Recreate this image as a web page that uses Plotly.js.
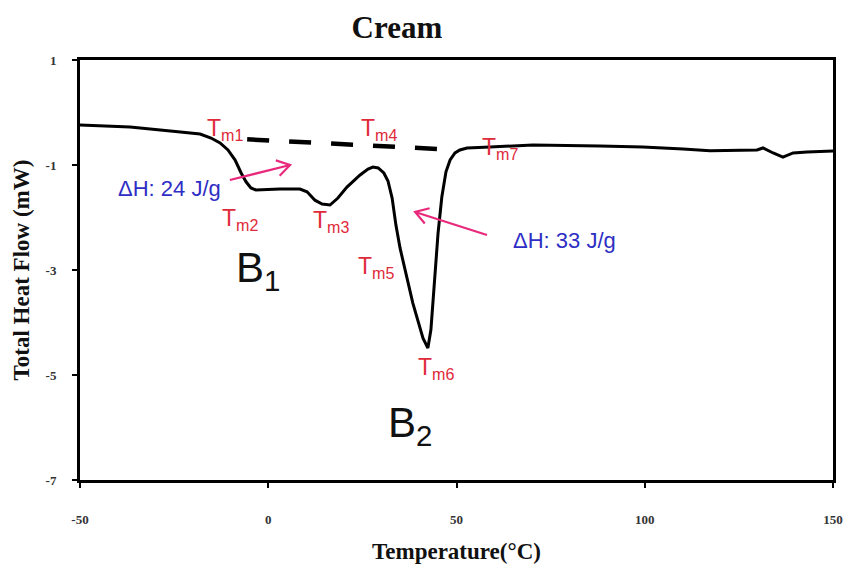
<!DOCTYPE html>
<html>
<head>
<meta charset="utf-8">
<script src="https://cdn.plot.ly/plotly-3.0.1.min.js"></script>
<style>html,body{margin:0;padding:0;background:#fff;}#chart{width:850px;height:574px;}</style>
</head>
<body>
<div id="chart"></div>
<script>
// Temperature (°C) and total heat flow (mW)
var temperature = [-50, -36.7, -24, -18.1, -15.2, -12.8, -10.7, -8.8, -7.2, -5.9, -4.6, -3.3, 3.1, 8.4, 10.3, 12.4, 14.3, 16.4, 18.5, 20.9, 24.4, 26.5, 27.8, 29.2, 30.7, 31.8, 32.9, 33.9, 35.0, 38.4, 41.1, 42.4, 43.2, 44.0, 45.1, 46.1, 47.2, 48.3, 49.6, 50.9, 52.8, 58.9, 70.3, 88.1, 99.5, 110.2, 117.3, 129.8, 131.4, 134.1, 136.7, 139.4, 143.1, 150];
var heatFlow = [-0.238, -0.276, -0.366, -0.41, -0.486, -0.58, -0.714, -0.905, -1.152, -1.32, -1.438, -1.476, -1.457, -1.457, -1.51, -1.67, -1.743, -1.762, -1.63, -1.42, -1.19, -1.076, -1.04, -1.057, -1.152, -1.305, -1.63, -2.14, -2.58, -3.63, -4.30, -4.486, -4.14, -3.38, -2.30, -1.61, -1.13, -0.905, -0.77, -0.714, -0.676, -0.657, -0.62, -0.638, -0.657, -0.695, -0.728, -0.714, -0.676, -0.771, -0.848, -0.771, -0.752, -0.733];

// Dashed baseline between Tm1 and Tm7
var baselineT = [-5.6, 50.1];
var baselineHF = [-0.51, -0.714];

// Tick labels
var xTicks = [-50, 0, 50, 100, 150];
var yTicks = [1, -1, -3, -5, -7];

// Point labels
var tmLabels = ['T<sub>m1</sub>', 'T<sub>m2</sub>', 'T<sub>m3</sub>', 'T<sub>m4</sub>', 'T<sub>m5</sub>', 'T<sub>m6</sub>', 'T<sub>m7</sub>'];
var tmX = [-11.5, -7.5, 16.7, 29.4, 28.6, 44.6, 61.6];
var tmY = [-0.333, -2.03, -2.07, -0.333, -2.96, -4.87, -0.695];

var enthalpyLabels = ['ΔH: 24 J/g', 'ΔH: 33 J/g'];
var enthalpyX = [-26.1, 78.8];
var enthalpyY = [-1.457, -2.43];

var peakLabels = ['B<sub>1</sub>', 'B<sub>2</sub>'];
var peakX = [-2.7, 37.6];
var peakY = [-3.0, -5.97];

// Arrows: tail -> head
var arrowTailX = [-10.2, 58.1];
var arrowTailY = [-1.286, -2.333];
var arrowHeadX = [5.8, 39.0];
var arrowHeadY = [-1.0, -1.895];

var RED = '#df2a3a', BLUE = '#2e2ec4', PINK = '#e8297c';

var annotations = [];
for (var i = 0; i < tmLabels.length; i++) {
  annotations.push({x: tmX[i], y: tmY[i], xref: 'x', yref: 'y', text: tmLabels[i], showarrow: false,
    font: {family: 'Liberation Sans, Arial, sans-serif', size: 23, color: RED}});
}
for (var i = 0; i < enthalpyLabels.length; i++) {
  annotations.push({x: enthalpyX[i], y: enthalpyY[i], xref: 'x', yref: 'y', text: enthalpyLabels[i], showarrow: false,
    font: {family: 'Liberation Sans, Arial, sans-serif', size: 22, color: BLUE}});
}
for (var i = 0; i < peakLabels.length; i++) {
  annotations.push({x: peakX[i], y: peakY[i], xref: 'x', yref: 'y', text: peakLabels[i], showarrow: false,
    font: {family: 'Liberation Sans, Arial, sans-serif', size: 42, color: '#111'}});
}

// Plot geometry (px per data unit) for open arrowheads
var mL = 80, mR = 17, mT = 60, mB = 94, W = 850, H = 574;
var xRange = [-50, 150], yRange = [-7, 1];
var pxPerX = (W - mL - mR) / (xRange[1] - xRange[0]);
var pxPerY = (H - mT - mB) / (yRange[1] - yRange[0]);

var shapes = [];
for (var i = 0; i < arrowTailX.length; i++) {
  var dxp = (arrowHeadX[i] - arrowTailX[i]) * pxPerX;
  var dyp = (arrowHeadY[i] - arrowTailY[i]) * pxPerY;
  var len = Math.sqrt(dxp * dxp + dyp * dyp);
  var ux = dxp / len, uy = dyp / len;
  var armLen = 15, ang = 32 * Math.PI / 180;
  var arms = [1, -1].map(function (sign) {
    var c = Math.cos(sign * ang), s = Math.sin(sign * ang);
    var bx = -(ux * c - uy * s), by = -(ux * s + uy * c);
    return [arrowHeadX[i] + bx * armLen / pxPerX, arrowHeadY[i] + by * armLen / pxPerY];
  });
  shapes.push({type: 'path', xref: 'x', yref: 'y',
    path: 'M' + arrowTailX[i] + ',' + arrowTailY[i] + ' L' + arrowHeadX[i] + ',' + arrowHeadY[i] +
          ' M' + arms[0][0] + ',' + arms[0][1] + ' L' + arrowHeadX[i] + ',' + arrowHeadY[i] + ' L' + arms[1][0] + ',' + arms[1][1],
    line: {color: PINK, width: 2.2}});
}

var traces = [
  {x: baselineT, y: baselineHF, mode: 'lines', line: {color: '#000', width: 4.5, dash: '22px,20px'}, hoverinfo: 'skip', showlegend: false},
  {x: temperature, y: heatFlow, mode: 'lines', line: {color: '#000', width: 3}, showlegend: false}
];

var axisFont = {family: 'Liberation Serif, Times New Roman, serif', size: 13, color: '#333', weight: 'bold'};
var titleFont = {family: 'Liberation Serif, Times New Roman, serif', size: 23, color: '#111', weight: 'bold'};

var layout = {
  width: W, height: H,
  margin: {l: mL, r: mR, t: mT, b: mB},
  paper_bgcolor: '#fff', plot_bgcolor: '#fff',
  title: {text: 'Cream', x: 0.467, xref: 'container', xanchor: 'center', y: 0.953, yref: 'container', yanchor: 'middle',
    font: {family: 'Liberation Serif, Times New Roman, serif', size: 31, color: '#111', weight: 'bold'}},
  xaxis: {range: xRange, tickvals: xTicks, ticktext: xTicks.map(String), showgrid: false, zeroline: false,
    showline: true, mirror: true, linecolor: '#000', linewidth: 3, ticks: 'outside', ticklen: 5, tickwidth: 2, tickcolor: '#000',
    tickfont: axisFont, ticklabelstandoff: 20,
    title: {text: 'Temperature(°C)', font: titleFont, standoff: 18}},
  yaxis: {range: yRange, tickvals: yTicks, ticktext: yTicks.map(String), showgrid: false, zeroline: false,
    showline: true, mirror: true, linecolor: '#000', linewidth: 3, ticks: 'outside', ticklen: 5, tickwidth: 2, tickcolor: '#000',
    tickfont: axisFont, ticklabelstandoff: 13,
    title: {text: 'Total Heat Flow (mW)', font: titleFont, standoff: 10}},
  annotations: annotations,
  shapes: shapes,
  showlegend: false
};

Plotly.newPlot('chart', traces, layout, {staticPlot: true, displayModeBar: false});
</script>
</body>
</html>
